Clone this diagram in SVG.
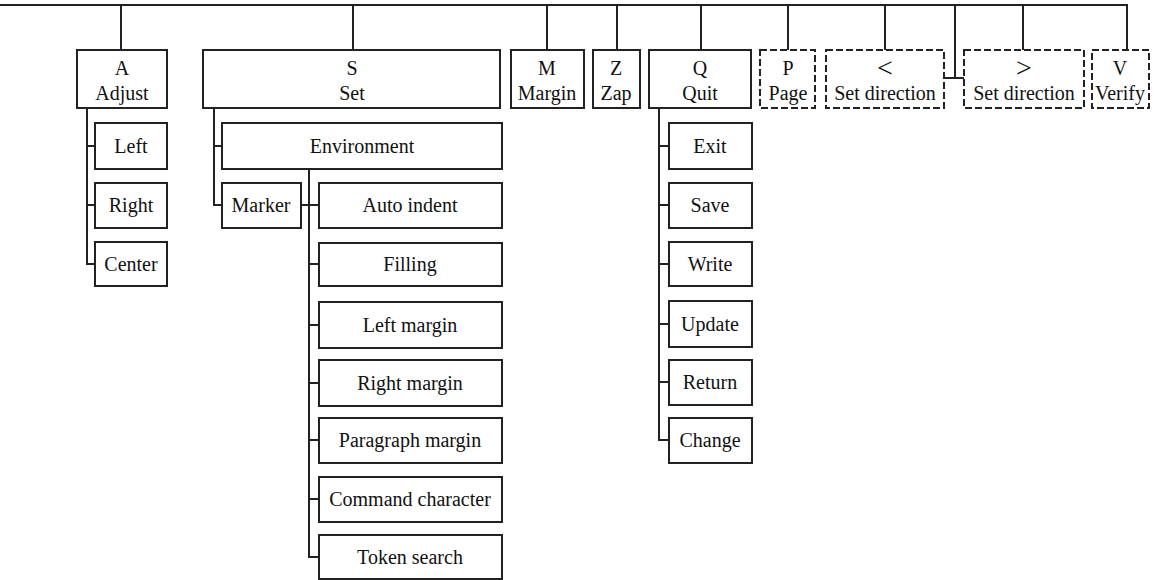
<svg xmlns="http://www.w3.org/2000/svg" width="1169" height="580" viewBox="0 0 1169 580">
  <style>
    .box { fill: #fff; stroke: #222; stroke-width: 2; }
    .dash { stroke-dasharray: 7 3; }
    .wire { fill: none; stroke: #222; stroke-width: 2; }
    text { font-family: "Liberation Serif", "Times New Roman", serif; font-size: 20px; fill: #111; text-anchor: middle; }
    .sym { font-size: 28px; }
  </style>
  <rect width="1169" height="580" fill="#fff"/>

  <g id="connectors" class="wire">
    <!-- top bus -->
    <path d="M0 5 H1128"/>
    <path d="M121 5 V50 M353 5 V50 M547 5 V50 M617 5 V50 M701 5 V50 M788 5 V50 M885 5 V50 M1023 5 V50 M1127 5 V50"/>
    <path d="M955 5 V78 M944 78 H964"/>
    <!-- Adjust -->
    <path d="M87 108 V264 H95 M87 146 H95 M87 205 H95"/>
    <!-- Set -->
    <path d="M214 108 V205 H222 M214 146 H222"/>
    <!-- Environment -->
    <path d="M309 169 V557 H319 M301 205 H319 M309 264 H319 M309 325 H319 M309 383 H319 M309 440 H319 M309 499 H319"/>
    <!-- Quit -->
    <path d="M659 108 V440 H669 M659 146 H669 M659 205 H669 M659 264 H669 M659 324 H669 M659 382 H669"/>
  </g>

  <g id="node-adjust"><rect class="box" x="77" y="50" width="90" height="58"/><text x="122" y="75">A</text><text x="122" y="100">Adjust</text></g>
  <g id="node-set"><rect class="box" x="203" y="50" width="297" height="58"/><text x="352" y="75">S</text><text x="352" y="100">Set</text></g>
  <g id="node-margin"><rect class="box" x="511" y="50" width="73" height="58"/><text x="547" y="75">M</text><text x="547" y="100">Margin</text></g>
  <g id="node-zap"><rect class="box" x="593" y="50" width="47" height="58"/><text x="616" y="75">Z</text><text x="616" y="100">Zap</text></g>
  <g id="node-quit"><rect class="box" x="649" y="50" width="102" height="58"/><text x="700" y="75">Q</text><text x="700" y="100">Quit</text></g>
  <g id="node-page"><rect class="box dash" x="760" y="50" width="55" height="58"/><text x="788" y="75">P</text><text x="788" y="100">Page</text></g>
  <g id="node-set-dir-left"><rect class="box dash" x="826" y="50" width="118" height="58"/><text class="sym" x="885" y="77">&lt;</text><text x="885" y="100">Set direction</text></g>
  <g id="node-set-dir-right"><rect class="box dash" x="964" y="50" width="120" height="58"/><text class="sym" x="1024" y="77">&gt;</text><text x="1024" y="100">Set direction</text></g>
  <g id="node-verify"><rect class="box dash" x="1092" y="50" width="57" height="58"/><text x="1120" y="75">V</text><text x="1120" y="100" textLength="50" lengthAdjust="spacingAndGlyphs">Verify</text></g>

  <g id="node-left"><rect class="box" x="95" y="123" width="72" height="46"/><text x="131" y="153">Left</text></g>
  <g id="node-right"><rect class="box" x="95" y="183" width="72" height="45"/><text x="131" y="212">Right</text></g>
  <g id="node-center"><rect class="box" x="95" y="242" width="72" height="44"/><text x="131" y="271">Center</text></g>

  <g id="node-environment"><rect class="box" x="222" y="123" width="280" height="46"/><text x="362" y="153">Environment</text></g>
  <g id="node-marker"><rect class="box" x="222" y="183" width="79" height="45"/><text x="261" y="212">Marker</text></g>
  <g id="node-auto-indent"><rect class="box" x="319" y="183" width="183" height="45"/><text x="410" y="212">Auto indent</text></g>
  <g id="node-filling"><rect class="box" x="319" y="243" width="183" height="43"/><text x="410" y="271">Filling</text></g>
  <g id="node-left-margin"><rect class="box" x="319" y="302" width="183" height="46"/><text x="410" y="332">Left margin</text></g>
  <g id="node-right-margin"><rect class="box" x="319" y="360" width="183" height="46"/><text x="410" y="390">Right margin</text></g>
  <g id="node-paragraph-margin"><rect class="box" x="319" y="418" width="183" height="45"/><text x="410" y="447">Paragraph margin</text></g>
  <g id="node-command-character"><rect class="box" x="319" y="477" width="183" height="45"/><text x="410" y="506">Command character</text></g>
  <g id="node-token-search"><rect class="box" x="319" y="535" width="183" height="44"/><text x="410" y="564">Token search</text></g>

  <g id="node-exit"><rect class="box" x="669" y="123" width="83" height="46"/><text x="710" y="153">Exit</text></g>
  <g id="node-save"><rect class="box" x="669" y="183" width="83" height="45"/><text x="710" y="212">Save</text></g>
  <g id="node-write"><rect class="box" x="669" y="242" width="83" height="44"/><text x="710" y="271">Write</text></g>
  <g id="node-update"><rect class="box" x="669" y="301" width="83" height="46"/><text x="710" y="331">Update</text></g>
  <g id="node-return"><rect class="box" x="669" y="360" width="83" height="45"/><text x="710" y="389">Return</text></g>
  <g id="node-change"><rect class="box" x="669" y="418" width="83" height="45"/><text x="710" y="447">Change</text></g>
</svg>
